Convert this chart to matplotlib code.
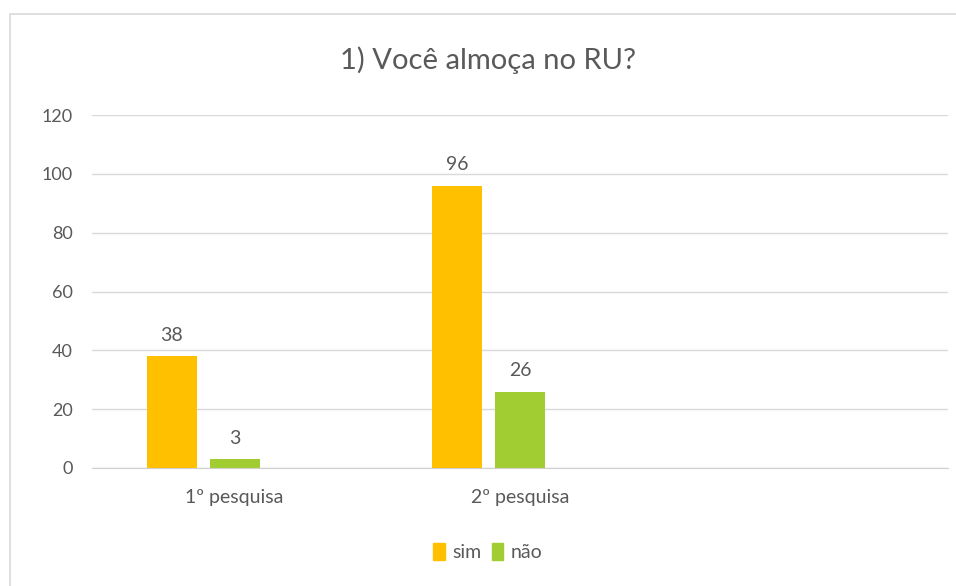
import matplotlib.pyplot as plt
import numpy as np
from matplotlib.patches import Rectangle, Patch

categorias = ["1º pesquisa", "2º pesquisa", ""]
sim = [38, 96, 0]
nao = [3, 26, 0]
series = ["sim", "não"]
cores = ["#FFC000", "#A2CD32"]

plt.rcParams['font.family'] = ['Lato', 'DejaVu Sans']
cinza = "#595959"

fig = plt.figure(figsize=(9.56, 5.86), dpi=100)
# moldura do gráfico (cortada à direita e embaixo)
fig.patches.append(Rectangle((10 / 956, -0.1), 1.2, 1 - 14 / 586 + 0.1,
                             transform=fig.transFigure, fill=False,
                             edgecolor="#d9d9d9", linewidth=1.2))

ax = fig.add_axes([92 / 956, 1 - 468 / 586, 856 / 956, (468 - 115) / 586])

x = np.arange(len(categorias))
largura = 50 / 285
passo = 63 / 285
b1 = ax.bar(x - passo, sim, largura, color=cores[0], label=series[0])
b2 = ax.bar(x, nao, largura, color=cores[1], label=series[1])

for barras, valores in ((b1, sim), (b2, nao)):
    for b, v in zip(barras[:2], valores[:2]):
        ax.annotate(str(v), (b.get_x() + b.get_width() / 2, v),
                    xytext=(0, 9), textcoords="offset points",
                    ha="center", va="bottom", fontsize=14, color=cinza)

ax.set_xlim(-0.5, 2.5)
ax.set_ylim(0, 120)
ax.set_yticks(range(0, 121, 20))
ax.set_xticks(x[:2])
ax.set_xticklabels(categorias[:2])
ax.tick_params(length=0, labelsize=13, colors=cinza)
ax.tick_params(axis="x", pad=15, labelsize=14)
ax.tick_params(axis="y", pad=14)
ax.grid(axis="y", color="#d9d9d9", linewidth=1)
ax.set_axisbelow(True)
for s in ["top", "right", "left"]:
    ax.spines[s].set_visible(False)
ax.spines["bottom"].set_color("#d0d0d0")

fig.text(488 / 956, 1 - 60 / 586, "1) Você almoça no RU?", ha="center",
         va="center", fontsize=21, color=cinza)

handles = [Patch(color=c) for c in cores]
fig.legend(handles, series, loc="center", bbox_to_anchor=(488 / 956, 1 - 552 / 586),
           ncol=2, frameon=False, fontsize=14, labelcolor=cinza,
           handlelength=0.6, handleheight=1.0, handletextpad=0.4, columnspacing=0.5)

plt.savefig("out.png", dpi=100)
